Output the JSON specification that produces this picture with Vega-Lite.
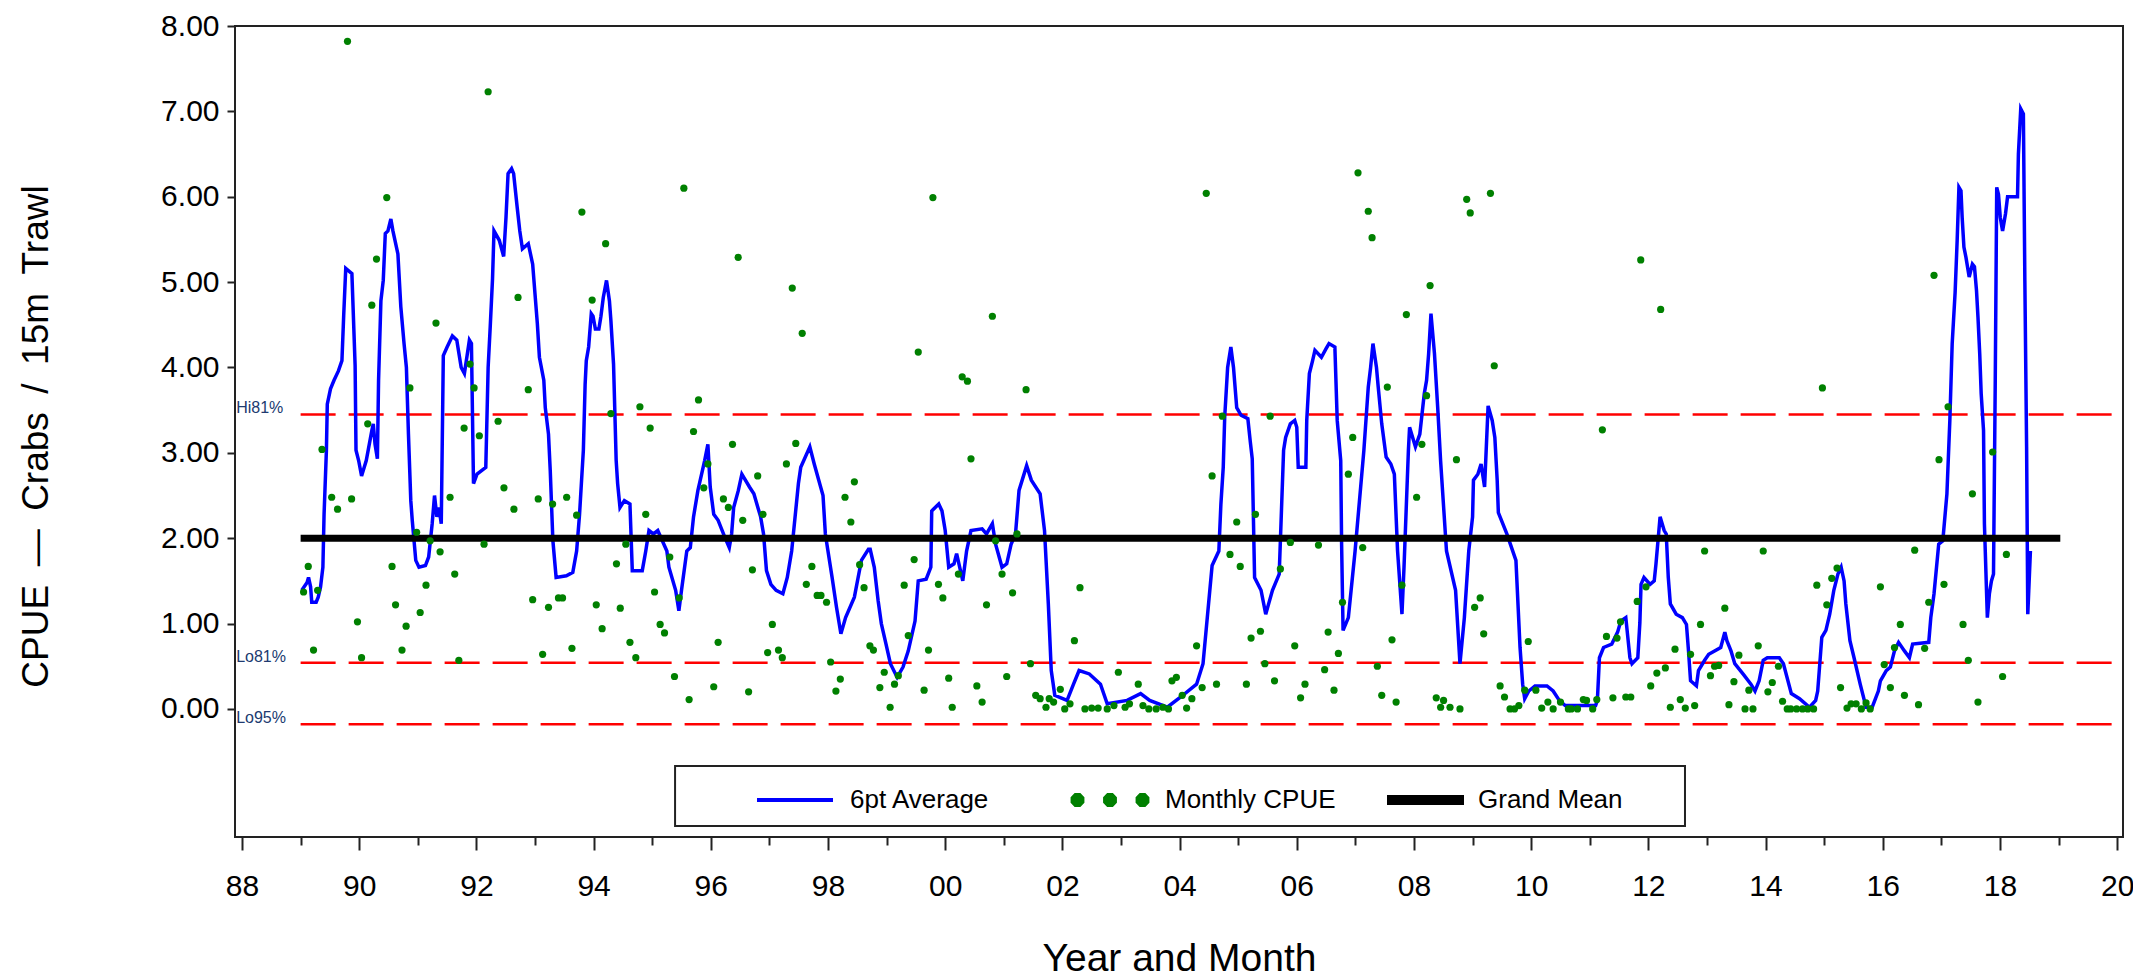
{
  "$schema": "https://vega.github.io/schema/vega-lite/v6.json",
  "width": 1888,
  "height": 811,
  "autosize": "none",
  "padding": {"left": 235, "top": 26, "right": 10, "bottom": 140},
  "background": "white",
  "config": {
    "font": "Liberation Sans",
    "view": {"stroke": "#222222", "strokeWidth": 2},
    "axis": {"domain": false, "grid": false, "labelFont": "Liberation Sans", "titleFont": "Liberation Sans", "titleFontWeight": "normal", "labelColor": "black", "titleColor": "black", "tickColor": "#222222", "tickWidth": 2},
    "legend": {"padding": 0, "labelFont": "Liberation Sans", "labelFontSize": 26, "labelColor": "black", "labelLimit": 0, "clipHeight": 30, "title": null}
  },
  "datasets": {
    "refs": [{"lab": "Hi81%", "y": 3.45}, {"lab": "Lo81%", "y": 0.54}, {"lab": "Lo95%", "y": -0.18}],
    "mean": [{"y": 2.0}],
    "avg": [
      {"t":1989.02,"v":1.39},{"t":1989.11,"v":1.48},{"t":1989.135,"v":1.54},{"t":1989.17,"v":1.43},{"t":1989.19,"v":1.25},{"t":1989.265,"v":1.25},{"t":1989.3,"v":1.31},{"t":1989.34,"v":1.43},{"t":1989.38,"v":1.66},{"t":1989.4,"v":2.28},{"t":1989.44,"v":3.03},{"t":1989.455,"v":3.57},{"t":1989.51,"v":3.75},{"t":1989.57,"v":3.85},{"t":1989.645,"v":3.96},{"t":1989.705,"v":4.08},{"t":1989.735,"v":4.61},{"t":1989.77,"v":5.16},{"t":1989.875,"v":5.1},{"t":1989.93,"v":4.02},{"t":1989.945,"v":3.03},{"t":1989.99,"v":2.91},{"t":1990.04,"v":2.73},{"t":1990.12,"v":2.91},{"t":1990.215,"v":3.26},{"t":1990.24,"v":3.34},{"t":1990.27,"v":3.1},{"t":1990.31,"v":2.93},{"t":1990.33,"v":3.85},{"t":1990.37,"v":4.78},{"t":1990.41,"v":5.02},{"t":1990.445,"v":5.57},{"t":1990.49,"v":5.6},{"t":1990.54,"v":5.74},{"t":1990.575,"v":5.6},{"t":1990.66,"v":5.33},{"t":1990.71,"v":4.71},{"t":1990.765,"v":4.28},{"t":1990.805,"v":4.0},{"t":1990.84,"v":3.22},{"t":1990.88,"v":2.44},{"t":1990.905,"v":2.21},{"t":1990.965,"v":1.74},{"t":1991.02,"v":1.66},{"t":1991.13,"v":1.68},{"t":1991.185,"v":1.78},{"t":1991.245,"v":2.17},{"t":1991.285,"v":2.5},{"t":1991.325,"v":2.25},{"t":1991.36,"v":2.36},{"t":1991.4,"v":2.17},{"t":1991.435,"v":4.14},{"t":1991.5,"v":4.24},{"t":1991.59,"v":4.37},{"t":1991.665,"v":4.32},{"t":1991.74,"v":4.0},{"t":1991.795,"v":3.93},{"t":1991.88,"v":4.32},{"t":1991.915,"v":4.28},{"t":1991.95,"v":2.64},{"t":1992.01,"v":2.75},{"t":1992.16,"v":2.83},{"t":1992.2,"v":4.0},{"t":1992.235,"v":4.47},{"t":1992.275,"v":5.04},{"t":1992.3,"v":5.6},{"t":1992.39,"v":5.49},{"t":1992.465,"v":5.3},{"t":1992.505,"v":5.76},{"t":1992.54,"v":6.27},{"t":1992.6,"v":6.33},{"t":1992.635,"v":6.27},{"t":1992.695,"v":5.88},{"t":1992.74,"v":5.6},{"t":1992.785,"v":5.39},{"t":1992.885,"v":5.45},{"t":1992.96,"v":5.21},{"t":1993.0,"v":4.86},{"t":1993.04,"v":4.51},{"t":1993.075,"v":4.12},{"t":1993.15,"v":3.85},{"t":1993.175,"v":3.53},{"t":1993.23,"v":3.22},{"t":1993.26,"v":2.79},{"t":1993.305,"v":1.97},{"t":1993.36,"v":1.54},{"t":1993.535,"v":1.56},{"t":1993.645,"v":1.6},{"t":1993.71,"v":1.85},{"t":1993.76,"v":2.28},{"t":1993.825,"v":3.03},{"t":1993.855,"v":3.8},{"t":1993.875,"v":4.08},{"t":1993.915,"v":4.24},{"t":1993.96,"v":4.63},{"t":1993.99,"v":4.6},{"t":1994.03,"v":4.45},{"t":1994.09,"v":4.45},{"t":1994.125,"v":4.6},{"t":1994.165,"v":4.82},{"t":1994.22,"v":5.02},{"t":1994.27,"v":4.78},{"t":1994.295,"v":4.55},{"t":1994.34,"v":4.04},{"t":1994.385,"v":2.91},{"t":1994.41,"v":2.64},{"t":1994.45,"v":2.36},{"t":1994.525,"v":2.44},{"t":1994.62,"v":2.4},{"t":1994.66,"v":1.62},{"t":1994.83,"v":1.62},{"t":1994.89,"v":1.85},{"t":1994.945,"v":2.09},{"t":1995.02,"v":2.05},{"t":1995.095,"v":2.09},{"t":1995.25,"v":1.85},{"t":1995.285,"v":1.66},{"t":1995.4,"v":1.39},{"t":1995.455,"v":1.15},{"t":1995.5,"v":1.39},{"t":1995.59,"v":1.85},{"t":1995.65,"v":1.89},{"t":1995.705,"v":2.25},{"t":1995.78,"v":2.56},{"t":1995.895,"v":2.91},{"t":1995.95,"v":3.1},{"t":1995.99,"v":2.6},{"t":1996.05,"v":2.28},{"t":1996.125,"v":2.21},{"t":1996.24,"v":2.01},{"t":1996.315,"v":1.89},{"t":1996.355,"v":2.05},{"t":1996.39,"v":2.36},{"t":1996.47,"v":2.56},{"t":1996.53,"v":2.75},{"t":1996.66,"v":2.6},{"t":1996.735,"v":2.52},{"t":1996.85,"v":2.25},{"t":1996.9,"v":2.05},{"t":1996.95,"v":1.62},{"t":1997.025,"v":1.46},{"t":1997.115,"v":1.39},{"t":1997.23,"v":1.35},{"t":1997.305,"v":1.54},{"t":1997.38,"v":1.85},{"t":1997.495,"v":2.64},{"t":1997.535,"v":2.83},{"t":1997.69,"v":3.07},{"t":1997.765,"v":2.87},{"t":1997.915,"v":2.5},{"t":1997.955,"v":2.05},{"t":1997.99,"v":1.89},{"t":1998.07,"v":1.54},{"t":1998.145,"v":1.19},{"t":1998.22,"v":0.88},{"t":1998.3,"v":1.07},{"t":1998.45,"v":1.31},{"t":1998.57,"v":1.74},{"t":1998.69,"v":1.87},{"t":1998.72,"v":1.87},{"t":1998.79,"v":1.66},{"t":1998.855,"v":1.27},{"t":1998.91,"v":1.0},{"t":1998.99,"v":0.76},{"t":1999.065,"v":0.53},{"t":1999.18,"v":0.37},{"t":1999.28,"v":0.49},{"t":1999.37,"v":0.68},{"t":1999.485,"v":1.03},{"t":1999.54,"v":1.5},{"t":1999.675,"v":1.52},{"t":1999.755,"v":1.66},{"t":1999.77,"v":2.32},{"t":1999.89,"v":2.4},{"t":1999.945,"v":2.32},{"t":2000.0,"v":2.09},{"t":2000.06,"v":1.66},{"t":2000.15,"v":1.7},{"t":2000.195,"v":1.82},{"t":2000.3,"v":1.5},{"t":2000.365,"v":1.85},{"t":2000.44,"v":2.09},{"t":2000.63,"v":2.11},{"t":2000.705,"v":2.05},{"t":2000.805,"v":2.17},{"t":2000.86,"v":1.93},{"t":2000.97,"v":1.66},{"t":2001.05,"v":1.7},{"t":2001.125,"v":1.93},{"t":2001.2,"v":2.05},{"t":2001.26,"v":2.56},{"t":2001.39,"v":2.85},{"t":2001.47,"v":2.68},{"t":2001.62,"v":2.52},{"t":2001.695,"v":2.09},{"t":2001.76,"v":1.23},{"t":2001.81,"v":0.45},{"t":2001.87,"v":0.16},{"t":2002.08,"v":0.1},{"t":2002.19,"v":0.29},{"t":2002.285,"v":0.45},{"t":2002.46,"v":0.41},{"t":2002.65,"v":0.29},{"t":2002.765,"v":0.06},{"t":2003.105,"v":0.1},{"t":2003.335,"v":0.18},{"t":2003.49,"v":0.1},{"t":2003.79,"v":0.02},{"t":2004.02,"v":0.14},{"t":2004.29,"v":0.29},{"t":2004.4,"v":0.53},{"t":2004.555,"v":1.68},{"t":2004.67,"v":1.85},{"t":2004.705,"v":2.4},{"t":2004.745,"v":2.83},{"t":2004.77,"v":3.42},{"t":2004.82,"v":4.0},{"t":2004.875,"v":4.24},{"t":2004.92,"v":4.0},{"t":2004.975,"v":3.53},{"t":2005.05,"v":3.44},{"t":2005.165,"v":3.4},{"t":2005.205,"v":3.14},{"t":2005.24,"v":2.93},{"t":2005.28,"v":1.54},{"t":2005.39,"v":1.39},{"t":2005.47,"v":1.11},{"t":2005.585,"v":1.39},{"t":2005.7,"v":1.58},{"t":2005.775,"v":3.03},{"t":2005.81,"v":3.18},{"t":2005.89,"v":3.34},{"t":2005.965,"v":3.38},{"t":2006.0,"v":3.3},{"t":2006.025,"v":2.83},{"t":2006.155,"v":2.83},{"t":2006.17,"v":3.38},{"t":2006.215,"v":3.93},{"t":2006.27,"v":4.08},{"t":2006.31,"v":4.2},{"t":2006.42,"v":4.12},{"t":2006.5,"v":4.22},{"t":2006.55,"v":4.28},{"t":2006.65,"v":4.24},{"t":2006.69,"v":3.38},{"t":2006.75,"v":2.91},{"t":2006.765,"v":1.93},{"t":2006.79,"v":0.92},{"t":2006.88,"v":1.07},{"t":2006.995,"v":1.85},{"t":2007.145,"v":3.03},{"t":2007.22,"v":3.77},{"t":2007.26,"v":4.0},{"t":2007.3,"v":4.28},{"t":2007.36,"v":4.0},{"t":2007.39,"v":3.77},{"t":2007.45,"v":3.34},{"t":2007.525,"v":2.95},{"t":2007.605,"v":2.87},{"t":2007.665,"v":2.75},{"t":2007.72,"v":1.85},{"t":2007.795,"v":1.11},{"t":2007.83,"v":1.66},{"t":2007.905,"v":3.03},{"t":2007.925,"v":3.3},{"t":2008.025,"v":3.07},{"t":2008.1,"v":3.22},{"t":2008.175,"v":3.69},{"t":2008.215,"v":3.85},{"t":2008.25,"v":4.16},{"t":2008.29,"v":4.63},{"t":2008.35,"v":4.16},{"t":2008.405,"v":3.53},{"t":2008.455,"v":2.9},{"t":2008.555,"v":1.85},{"t":2008.71,"v":1.39},{"t":2008.785,"v":0.53},{"t":2008.86,"v":1.07},{"t":2008.935,"v":1.85},{"t":2009.0,"v":2.25},{"t":2009.015,"v":2.68},{"t":2009.09,"v":2.75},{"t":2009.145,"v":2.87},{"t":2009.205,"v":2.6},{"t":2009.265,"v":3.55},{"t":2009.335,"v":3.38},{"t":2009.38,"v":3.18},{"t":2009.42,"v":2.68},{"t":2009.44,"v":2.3},{"t":2009.585,"v":2.05},{"t":2009.74,"v":1.74},{"t":2009.81,"v":0.72},{"t":2009.855,"v":0.29},{"t":2009.89,"v":0.12},{"t":2009.96,"v":0.21},{"t":2010.065,"v":0.27},{"t":2010.27,"v":0.27},{"t":2010.375,"v":0.21},{"t":2010.48,"v":0.1},{"t":2010.58,"v":0.04},{"t":2011.1,"v":0.04},{"t":2011.13,"v":0.1},{"t":2011.165,"v":0.6},{"t":2011.235,"v":0.72},{"t":2011.375,"v":0.76},{"t":2011.475,"v":0.9},{"t":2011.53,"v":1.03},{"t":2011.615,"v":1.07},{"t":2011.685,"v":0.6},{"t":2011.72,"v":0.53},{"t":2011.82,"v":0.6},{"t":2011.855,"v":1.01},{"t":2011.875,"v":1.46},{"t":2011.925,"v":1.54},{"t":2012.03,"v":1.46},{"t":2012.1,"v":1.5},{"t":2012.13,"v":1.7},{"t":2012.2,"v":2.25},{"t":2012.27,"v":2.09},{"t":2012.305,"v":2.05},{"t":2012.34,"v":1.54},{"t":2012.375,"v":1.23},{"t":2012.475,"v":1.11},{"t":2012.58,"v":1.07},{"t":2012.65,"v":0.99},{"t":2012.685,"v":0.68},{"t":2012.72,"v":0.33},{"t":2012.82,"v":0.27},{"t":2012.855,"v":0.45},{"t":2012.96,"v":0.57},{"t":2013.03,"v":0.64},{"t":2013.13,"v":0.68},{"t":2013.235,"v":0.72},{"t":2013.305,"v":0.9},{"t":2013.34,"v":0.8},{"t":2013.41,"v":0.68},{"t":2013.475,"v":0.53},{"t":2013.615,"v":0.41},{"t":2013.75,"v":0.29},{"t":2013.82,"v":0.21},{"t":2013.89,"v":0.33},{"t":2013.96,"v":0.57},{"t":2014.03,"v":0.6},{"t":2014.235,"v":0.6},{"t":2014.305,"v":0.53},{"t":2014.44,"v":0.18},{"t":2014.58,"v":0.12},{"t":2014.75,"v":0.02},{"t":2014.855,"v":0.1},{"t":2014.89,"v":0.21},{"t":2014.96,"v":0.84},{"t":2015.03,"v":0.92},{"t":2015.095,"v":1.11},{"t":2015.165,"v":1.39},{"t":2015.235,"v":1.58},{"t":2015.29,"v":1.66},{"t":2015.34,"v":1.5},{"t":2015.37,"v":1.23},{"t":2015.44,"v":0.8},{"t":2015.51,"v":0.6},{"t":2015.615,"v":0.29},{"t":2015.715,"v":0.02},{"t":2015.82,"v":0.02},{"t":2015.925,"v":0.21},{"t":2015.96,"v":0.33},{"t":2016.06,"v":0.45},{"t":2016.13,"v":0.49},{"t":2016.2,"v":0.68},{"t":2016.27,"v":0.78},{"t":2016.37,"v":0.68},{"t":2016.455,"v":0.6},{"t":2016.51,"v":0.76},{"t":2016.785,"v":0.78},{"t":2016.82,"v":1.07},{"t":2016.875,"v":1.35},{"t":2016.955,"v":1.93},{"t":2017.025,"v":1.97},{"t":2017.095,"v":2.52},{"t":2017.145,"v":3.38},{"t":2017.185,"v":4.28},{"t":2017.235,"v":4.88},{"t":2017.27,"v":5.49},{"t":2017.3,"v":6.11},{"t":2017.335,"v":6.07},{"t":2017.355,"v":5.76},{"t":2017.385,"v":5.41},{"t":2017.42,"v":5.29},{"t":2017.475,"v":5.06},{"t":2017.53,"v":5.21},{"t":2017.565,"v":5.18},{"t":2017.6,"v":4.9},{"t":2017.625,"v":4.59},{"t":2017.655,"v":4.16},{"t":2017.68,"v":3.69},{"t":2017.72,"v":3.26},{"t":2017.735,"v":2.17},{"t":2017.785,"v":1.07},{"t":2017.82,"v":1.35},{"t":2017.855,"v":1.5},{"t":2017.89,"v":1.58},{"t":2017.92,"v":3.85},{"t":2017.945,"v":6.11},{"t":2017.975,"v":6.03},{"t":2018.005,"v":5.76},{"t":2018.045,"v":5.6},{"t":2018.095,"v":5.8},{"t":2018.13,"v":6.0},{"t":2018.3,"v":6.0},{"t":2018.315,"v":6.5},{"t":2018.355,"v":7.03},{"t":2018.4,"v":6.97},{"t":2018.425,"v":5.02},{"t":2018.455,"v":3.07},{"t":2018.475,"v":1.11},{"t":2018.52,"v":1.85}
    ],
    "cpue": [
      {"t":1989.05,"v":1.37},{"t":1989.13,"v":1.67},{"t":1989.22,"v":0.69},{"t":1989.29,"v":1.39},{"t":1989.365,"v":3.04},{"t":1989.53,"v":2.48},{"t":1989.63,"v":2.34},{"t":1989.8,"v":7.82},{"t":1989.87,"v":2.46},{"t":1989.97,"v":1.02},{"t":1990.04,"v":0.6},{"t":1990.145,"v":3.34},{"t":1990.215,"v":4.73},{"t":1990.295,"v":5.27},{"t":1990.47,"v":5.99},{"t":1990.56,"v":1.67},{"t":1990.62,"v":1.22},{"t":1990.73,"v":0.69},{"t":1990.8,"v":0.97},{"t":1990.865,"v":3.76},{"t":1990.98,"v":2.07},{"t":1991.04,"v":1.13},{"t":1991.14,"v":1.45},{"t":1991.21,"v":1.97},{"t":1991.31,"v":4.52},{"t":1991.38,"v":1.84},{"t":1991.55,"v":2.48},{"t":1991.63,"v":1.58},{"t":1991.7,"v":0.57},{"t":1991.79,"v":3.29},{"t":1991.89,"v":4.04},{"t":1991.96,"v":3.76},{"t":1992.05,"v":3.2},{"t":1992.13,"v":1.93},{"t":1992.2,"v":7.23},{"t":1992.37,"v":3.37},{"t":1992.47,"v":2.59},{"t":1992.64,"v":2.34},{"t":1992.71,"v":4.82},{"t":1992.885,"v":3.74},{"t":1992.96,"v":1.28},{"t":1993.055,"v":2.46},{"t":1993.13,"v":0.64},{"t":1993.23,"v":1.19},{"t":1993.3,"v":2.4},{"t":1993.4,"v":1.3},{"t":1993.47,"v":1.3},{"t":1993.54,"v":2.48},{"t":1993.63,"v":0.71},{"t":1993.71,"v":2.27},{"t":1993.8,"v":5.82},{"t":1993.975,"v":4.79},{"t":1994.045,"v":1.22},{"t":1994.145,"v":0.94},{"t":1994.205,"v":5.45},{"t":1994.295,"v":3.46},{"t":1994.39,"v":1.7},{"t":1994.455,"v":1.18},{"t":1994.55,"v":1.93},{"t":1994.62,"v":0.78},{"t":1994.72,"v":0.6},{"t":1994.79,"v":3.54},{"t":1994.89,"v":2.28},{"t":1994.965,"v":3.29},{"t":1995.04,"v":1.37},{"t":1995.135,"v":0.99},{"t":1995.21,"v":0.89},{"t":1995.3,"v":1.78},{"t":1995.38,"v":0.38},{"t":1995.46,"v":1.3},{"t":1995.54,"v":6.1},{"t":1995.63,"v":0.11},{"t":1995.705,"v":3.25},{"t":1995.79,"v":3.62},{"t":1995.88,"v":2.59},{"t":1995.95,"v":2.87},{"t":1996.05,"v":0.26},{"t":1996.125,"v":0.78},{"t":1996.215,"v":2.46},{"t":1996.3,"v":2.36},{"t":1996.37,"v":3.1},{"t":1996.467,"v":5.29},{"t":1996.545,"v":2.21},{"t":1996.645,"v":0.2},{"t":1996.71,"v":1.63},{"t":1996.8,"v":2.73},{"t":1996.89,"v":2.28},{"t":1996.97,"v":0.66},{"t":1997.05,"v":0.99},{"t":1997.155,"v":0.69},{"t":1997.22,"v":0.6},{"t":1997.29,"v":2.87},{"t":1997.39,"v":4.93},{"t":1997.45,"v":3.11},{"t":1997.56,"v":4.4},{"t":1997.63,"v":1.46},{"t":1997.725,"v":1.67},{"t":1997.815,"v":1.33},{"t":1997.88,"v":1.33},{"t":1997.975,"v":1.25},{"t":1998.045,"v":0.55},{"t":1998.135,"v":0.21},{"t":1998.21,"v":0.35},{"t":1998.29,"v":2.48},{"t":1998.39,"v":2.19},{"t":1998.45,"v":2.66},{"t":1998.54,"v":1.69},{"t":1998.615,"v":1.42},{"t":1998.715,"v":0.74},{"t":1998.775,"v":0.69},{"t":1998.885,"v":0.25},{"t":1998.96,"v":0.43},{"t":1999.06,"v":0.02},{"t":1999.135,"v":0.29},{"t":1999.2,"v":0.39},{"t":1999.3,"v":1.45},{"t":1999.37,"v":0.86},{"t":1999.47,"v":1.75},{"t":1999.54,"v":4.18},{"t":1999.64,"v":0.22},{"t":1999.715,"v":0.69},{"t":1999.79,"v":5.99},{"t":1999.885,"v":1.46},{"t":1999.96,"v":1.3},{"t":2000.06,"v":0.36},{"t":2000.12,"v":0.02},{"t":2000.225,"v":1.58},{"t":2000.29,"v":3.89},{"t":2000.38,"v":3.84},{"t":2000.44,"v":2.93},{"t":2000.54,"v":0.27},{"t":2000.63,"v":0.08},{"t":2000.705,"v":1.22},{"t":2000.805,"v":4.6},{"t":2000.86,"v":1.97},{"t":2000.97,"v":1.58},{"t":2001.05,"v":0.38},{"t":2001.15,"v":1.36},{"t":2001.225,"v":2.05},{"t":2001.38,"v":3.74},{"t":2001.455,"v":0.53},{"t":2001.545,"v":0.16},{"t":2001.62,"v":0.12},{"t":2001.72,"v":0.02},{"t":2001.775,"v":0.12},{"t":2001.85,"v":0.08},{"t":2001.965,"v":0.23},{"t":2002.04,"v":0.0},{"t":2002.13,"v":0.06},{"t":2002.205,"v":0.8},{"t":2002.3,"v":1.42},{"t":2002.385,"v":0.0},{"t":2002.5,"v":0.01},{"t":2002.61,"v":0.01},{"t":2002.765,"v":0.0},{"t":2002.88,"v":0.04},{"t":2002.955,"v":0.43},{"t":2003.07,"v":0.02},{"t":2003.145,"v":0.06},{"t":2003.295,"v":0.29},{"t":2003.375,"v":0.04},{"t":2003.475,"v":0.0},{"t":2003.6,"v":0.0},{"t":2003.715,"v":0.02},{"t":2003.81,"v":0.0},{"t":2003.87,"v":0.33},{"t":2003.945,"v":0.37},{"t":2004.045,"v":0.16},{"t":2004.12,"v":0.01},{"t":2004.21,"v":0.12},{"t":2004.29,"v":0.74},{"t":2004.385,"v":0.25},{"t":2004.455,"v":6.04},{"t":2004.555,"v":2.73},{"t":2004.63,"v":0.29},{"t":2004.73,"v":3.43},{"t":2004.86,"v":1.81},{"t":2004.975,"v":2.19},{"t":2005.035,"v":1.67},{"t":2005.14,"v":0.29},{"t":2005.22,"v":0.83},{"t":2005.295,"v":2.28},{"t":2005.38,"v":0.91},{"t":2005.455,"v":0.53},{"t":2005.545,"v":3.43},{"t":2005.62,"v":0.33},{"t":2005.72,"v":1.64},{"t":2005.89,"v":1.95},{"t":2005.965,"v":0.74},{"t":2006.065,"v":0.13},{"t":2006.14,"v":0.29},{"t":2006.37,"v":1.92},{"t":2006.475,"v":0.46},{"t":2006.535,"v":0.9},{"t":2006.635,"v":0.22},{"t":2006.71,"v":0.65},{"t":2006.78,"v":1.25},{"t":2006.88,"v":2.75},{"t":2006.955,"v":3.18},{"t":2007.045,"v":6.28},{"t":2007.125,"v":1.89},{"t":2007.22,"v":5.83},{"t":2007.285,"v":5.52},{"t":2007.375,"v":0.5},{"t":2007.45,"v":0.16},{"t":2007.545,"v":3.77},{"t":2007.625,"v":0.81},{"t":2007.695,"v":0.08},{"t":2007.795,"v":1.45},{"t":2007.87,"v":4.62},{"t":2008.045,"v":2.48},{"t":2008.135,"v":3.1},{"t":2008.215,"v":3.67},{"t":2008.275,"v":4.96},{"t":2008.38,"v":0.13},{"t":2008.455,"v":0.02},{"t":2008.505,"v":0.1},{"t":2008.615,"v":0.02},{"t":2008.725,"v":2.92},{"t":2008.785,"v":0.0},{"t":2008.9,"v":5.97},{"t":2008.96,"v":5.81},{"t":2009.035,"v":1.19},{"t":2009.13,"v":1.3},{"t":2009.19,"v":0.88},{"t":2009.305,"v":6.04},{"t":2009.37,"v":4.02},{"t":2009.47,"v":0.27},{"t":2009.545,"v":0.14},{"t":2009.64,"v":0.0},{"t":2009.715,"v":0.0},{"t":2009.79,"v":0.04},{"t":2009.89,"v":0.22},{"t":2009.95,"v":0.79},{"t":2010.08,"v":0.22},{"t":2010.18,"v":0.01},{"t":2010.285,"v":0.08},{"t":2010.375,"v":0.0},{"t":2010.5,"v":0.08},{"t":2010.635,"v":0.0},{"t":2010.685,"v":0.0},{"t":2010.79,"v":0.0},{"t":2010.89,"v":0.11},{"t":2010.945,"v":0.1},{"t":2011.05,"v":0.0},{"t":2011.12,"v":0.11},{"t":2011.215,"v":3.27},{"t":2011.285,"v":0.85},{"t":2011.395,"v":0.13},{"t":2011.465,"v":0.83},{"t":2011.525,"v":1.02},{"t":2011.615,"v":0.14},{"t":2011.7,"v":0.14},{"t":2011.81,"v":1.26},{"t":2011.87,"v":5.26},{"t":2011.96,"v":1.43},{"t":2012.04,"v":0.27},{"t":2012.145,"v":0.42},{"t":2012.21,"v":4.68},{"t":2012.29,"v":0.48},{"t":2012.375,"v":0.02},{"t":2012.455,"v":0.7},{"t":2012.545,"v":0.11},{"t":2012.63,"v":0.01},{"t":2012.72,"v":0.64},{"t":2012.79,"v":0.04},{"t":2012.89,"v":0.99},{"t":2012.96,"v":1.85},{"t":2013.06,"v":0.39},{"t":2013.13,"v":0.5},{"t":2013.2,"v":0.51},{"t":2013.305,"v":1.18},{"t":2013.375,"v":0.05},{"t":2013.46,"v":0.32},{"t":2013.545,"v":0.63},{"t":2013.65,"v":0.0},{"t":2013.715,"v":0.22},{"t":2013.785,"v":0.0},{"t":2013.875,"v":0.74},{"t":2013.96,"v":1.85},{"t":2014.04,"v":0.2},{"t":2014.115,"v":0.31},{"t":2014.22,"v":0.5},{"t":2014.29,"v":0.09},{"t":2014.37,"v":0.0},{"t":2014.43,"v":0.0},{"t":2014.53,"v":0.0},{"t":2014.63,"v":0.0},{"t":2014.72,"v":0.0},{"t":2014.82,"v":0.0},{"t":2014.875,"v":1.45},{"t":2014.97,"v":3.76},{"t":2015.045,"v":1.22},{"t":2015.13,"v":1.53},{"t":2015.22,"v":1.65},{"t":2015.28,"v":0.25},{"t":2015.39,"v":0.01},{"t":2015.46,"v":0.06},{"t":2015.545,"v":0.06},{"t":2015.635,"v":0.0},{"t":2015.715,"v":0.07},{"t":2015.785,"v":0.0},{"t":2015.96,"v":1.43},{"t":2016.025,"v":0.52},{"t":2016.13,"v":0.25},{"t":2016.2,"v":0.72},{"t":2016.3,"v":0.99},{"t":2016.37,"v":0.16},{"t":2016.545,"v":1.86},{"t":2016.61,"v":0.05},{"t":2016.715,"v":0.71},{"t":2016.785,"v":1.25},{"t":2016.875,"v":5.08},{"t":2016.96,"v":2.92},{"t":2017.045,"v":1.46},{"t":2017.115,"v":3.54},{"t":2017.37,"v":0.99},{"t":2017.46,"v":0.57},{"t":2017.53,"v":2.52},{"t":2017.625,"v":0.08},{"t":2017.875,"v":3.01},{"t":2018.045,"v":0.38},{"t":2018.11,"v":1.81}
    ]
  },
  "layer": [
    {
      "data": {"name": "refs"},
      "mark": {"type": "rule", "color": "#ff0000", "strokeWidth": 2.5, "strokeDash": [35, 13]},
      "encoding": {
        "x": {"datum": 1989.0, "type": "quantitative",
          "scale": {"domain": [1987.88, 2020.1], "nice": false, "zero": false},
          "axis": {
            "values": [1988,1989,1990,1991,1992,1993,1994,1995,1996,1997,1998,1999,2000,2001,2002,2003,2004,2005,2006,2007,2008,2009,2010,2011,2012,2013,2014,2015,2016,2017,2018,2019,2020],
            "labelExpr": "datum.value % 2 === 0 ? substring(toString(datum.value), 2) : ''",
            "tickSize": {"condition": {"test": "datum.value % 2 === 0", "value": 13}, "value": 8},
            "labelPadding": 21, "labelFontSize": 30, "labelOverlap": false, "labelFlush": false, "labelBound": false,
            "title": "Year and Month", "titleFontSize": 39, "titleY": 133, "titleBaseline": "alphabetic"
          }
        },
        "x2": {"datum": 2020.0},
        "y": {"field": "y", "type": "quantitative",
          "scale": {"domain": [-1.5, 8], "nice": false, "zero": false},
          "axis": {
            "values": [0,1,2,3,4,5,6,7,8], "format": ".2f", "tickSize": 8, "labelPadding": 8, "labelFontSize": 30, "labelFlush": false,
            "title": "CPUE\u2002—\u2002Crabs\u2002/\u200215m\u2002Trawl", "titleFontSize": 37, "titleX": -188, "titleY": 410, "titleBaseline": "alphabetic", "titleAlign": "center", "titleAngle": 270
          }
        }
      }
    },
    {
      "data": {"name": "refs"},
      "mark": {"type": "text", "align": "left", "baseline": "alphabetic", "dy": -1, "fontSize": 16, "font": "Liberation Sans", "color": "#203a70"},
      "encoding": {
        "x": {"datum": 1987.9, "type": "quantitative"},
        "y": {"field": "y", "type": "quantitative"},
        "text": {"field": "lab"}
      }
    },
    {
      "data": {"name": "avg"},
      "mark": {"type": "line", "strokeWidth": 3.5},
      "encoding": {
        "x": {"field": "t", "type": "quantitative"},
        "y": {"field": "v", "type": "quantitative"},
        "stroke": {
          "datum": "6pt Average", "type": "nominal",
          "scale": {"domain": ["6pt Average"], "range": ["#0000ff"]},
          "legend": {"orient": "none", "legendX": 520, "legendY": 759, "symbolType": "stroke", "symbolSize": 5776, "symbolStrokeWidth": 4, "labelOffset": 15}
        }
      }
    },
    {
      "data": {"name": "mean"},
      "mark": {"type": "rule", "color": "#000000", "strokeWidth": 7},
      "encoding": {
        "x": {"datum": 1989.0, "type": "quantitative"},
        "x2": {"datum": 2019.03},
        "y": {"field": "y", "type": "quantitative"},
        "strokeDash": {
          "datum": "Grand Mean", "type": "nominal",
          "scale": {"domain": ["Grand Mean"], "range": [[1, 0]]},
          "legend": {"orient": "none", "legendX": 1147, "legendY": 759, "symbolType": "stroke", "symbolSize": 5929, "symbolStrokeWidth": 10, "symbolStrokeColor": "#000000", "labelOffset": 9}
        }
      }
    },
    {
      "data": {"name": "cpue"},
      "mark": {"type": "point", "filled": true, "size": 52, "opacity": 1},
      "encoding": {
        "x": {"field": "t", "type": "quantitative"},
        "y": {"field": "v", "type": "quantitative"},
        "fill": {
          "datum": "Monthly CPUE", "type": "nominal",
          "scale": {"domain": ["Monthly CPUE"], "range": ["#008000"]},
          "legend": {"orient": "none", "legendX": 835, "legendY": 759, "symbolSize": 6400, "symbolStrokeWidth": 0, "labelOffset": 15,
            "symbolType": "M-0.6393,0.0718L-0.7407,0.1732L-0.8843,0.1732L-0.9857,0.0718L-0.9857,-0.0718L-0.8843,-0.1732L-0.7407,-0.1732L-0.6393,-0.0718ZM0.1732,0.0718L0.0718,0.1732L-0.0718,0.1732L-0.1732,0.0718L-0.1732,-0.0718L-0.0718,-0.1732L0.0718,-0.1732L0.1732,-0.0718ZM0.9857,0.0718L0.8843,0.1732L0.7407,0.1732L0.6393,0.0718L0.6393,-0.0718L0.7407,-0.1732L0.8843,-0.1732L0.9857,-0.0718Z"}
        }
      }
    },
    {
      "data": {"name": "mean"},
      "mark": {"type": "rect", "fill": "white", "stroke": "#222222", "strokeWidth": 2},
      "encoding": {
        "x": {"datum": 1995.39, "type": "quantitative"},
        "x2": {"datum": 2012.625},
        "y": {"datum": -0.668, "type": "quantitative"},
        "y2": {"datum": -1.371}
      }
    }
  ]
}
